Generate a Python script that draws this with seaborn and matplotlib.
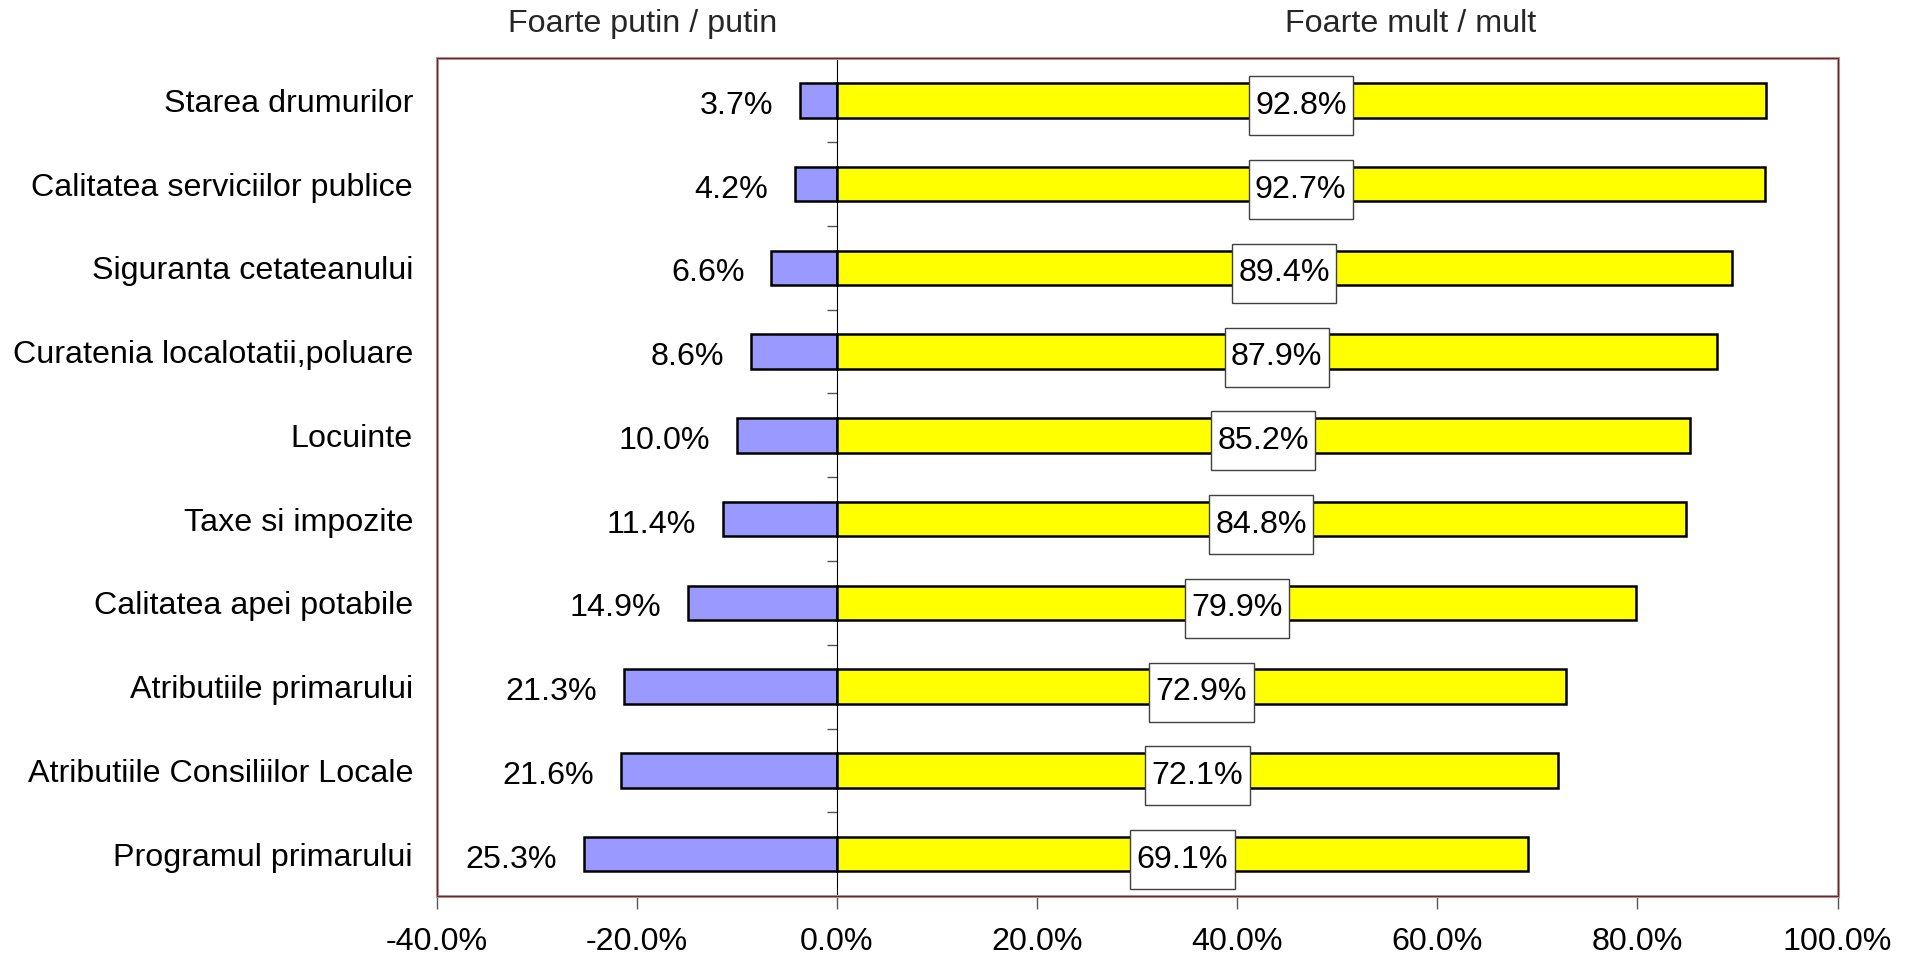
import numpy as np
import matplotlib
matplotlib.use("Agg")
import matplotlib.pyplot as plt
from matplotlib.patches import Rectangle
from matplotlib.path import Path
import seaborn as sns

# ── data ──────────────────────────────────────────────────────
categories = ["Starea drumurilor", "Calitatea serviciilor publice",
              "Siguranta cetateanului", "Curatenia localotatii,poluare",
              "Locuinte", "Taxe si impozite", "Calitatea apei potabile",
              "Atributiile primarului", "Atributiile Consiliilor Locale",
              "Programul primarului"]
low_pct = [3.7, 4.2, 6.6, 8.6, 10.0, 11.4, 14.9, 21.3, 21.6, 25.3]
high_pct = [92.8, 92.7, 89.4, 87.9, 85.2, 84.8, 79.9, 72.9, 72.1, 69.1]
x_ticks = [-40, -20, 0, 20, 40, 60, 80, 100]
header_low = "Foarte putin / putin"
header_high = "Foarte mult / mult"

# ── style ─────────────────────────────────────────────────────
sns.set_theme(style="white")
plt.rcParams["font.family"] = ["Liberation Sans", "DejaVu Sans"]
FS = 23.2


def tall_box(x0, y0, width, height, mutation_size):
    # square label box, more padding top/bottom than left/right
    px, py = 0.2 * mutation_size, 0.45 * mutation_size
    x0, y0 = x0 - px, y0 - py
    x1, y1 = x0 + width + 2 * px, y0 + height + 2 * py
    return Path([(x0, y0), (x1, y0), (x1, y1), (x0, y1), (x0, y0)], closed=True)


fig = plt.figure(figsize=(19.12, 9.57), dpi=100)
ax = fig.add_axes([0.2283, 0.0637, 0.9611 - 0.2283, 0.9389 - 0.0637])

sns.barplot(x=-np.array(low_pct), y=categories, orient="h", color="#9999FF",
            saturation=1, width=0.41, edgecolor="black", linewidth=1.8,
            errorbar=None, ax=ax)
sns.barplot(x=high_pct, y=categories, orient="h", color="#FFFF00",
            saturation=1, width=0.41, edgecolor="black", linewidth=1.8,
            errorbar=None, ax=ax)

# value labels
neg_txt = ax.bar_label(ax.containers[0], labels=[f"{v:.1f}%" for v in low_pct],
                       padding=19, fontsize=FS, color="black")
pos_txt = ax.bar_label(ax.containers[1], labels=[f"{v:.1f}%" for v in high_pct],
                       label_type="center", fontsize=FS, color="black",
                       bbox=dict(boxstyle=tall_box, facecolor="white",
                                 edgecolor="#404040", linewidth=1))
for t in list(neg_txt) + list(pos_txt):
    t.xyann = (t.xyann[0], t.xyann[1] - 4)

# axes
ax.set_xlim(-40, 100)
ax.set_xticks(x_ticks)
ax.set_xticklabels([f"{t:.1f}%" for t in x_ticks])
ax.set_xlabel("")
ax.set_ylabel("")
ax.tick_params(axis="x", length=9, width=1, color="#555555", direction="out",
               bottom=True, labelsize=FS, pad=13, labelcolor="black")
ax.tick_params(axis="y", length=0, pad=17, labelsize=FS, labelcolor="black")

for s in ax.spines.values():
    s.set_color("#a0a0a0")
    s.set_linewidth(2.2)
ax.add_patch(Rectangle((0, 0), 1, 1, transform=ax.transAxes, fill=False,
                       edgecolor="#8B1A1A", linewidth=0.8, zorder=5,
                       clip_on=False))

# Excel-style value axis at x=0 with category boundary ticks
sec = ax.secondary_yaxis(0, transform=ax.transData)
sec.set_yticks(np.arange(-0.5, len(categories), 1.0))
sec.tick_params(length=7, width=1, color="#555555", labelleft=False,
                direction="out")
sec.spines["left"].set_color("black")
sec.spines["left"].set_linewidth(0.8)

# headers
fig.text(643 / 1912, 1 - 24 / 957, header_low, ha="center", va="center",
         fontsize=FS)
fig.text(1411 / 1912, 1 - 24 / 957, header_high, ha="center", va="center",
         fontsize=FS)

fig.savefig("out.png", dpi=100)
